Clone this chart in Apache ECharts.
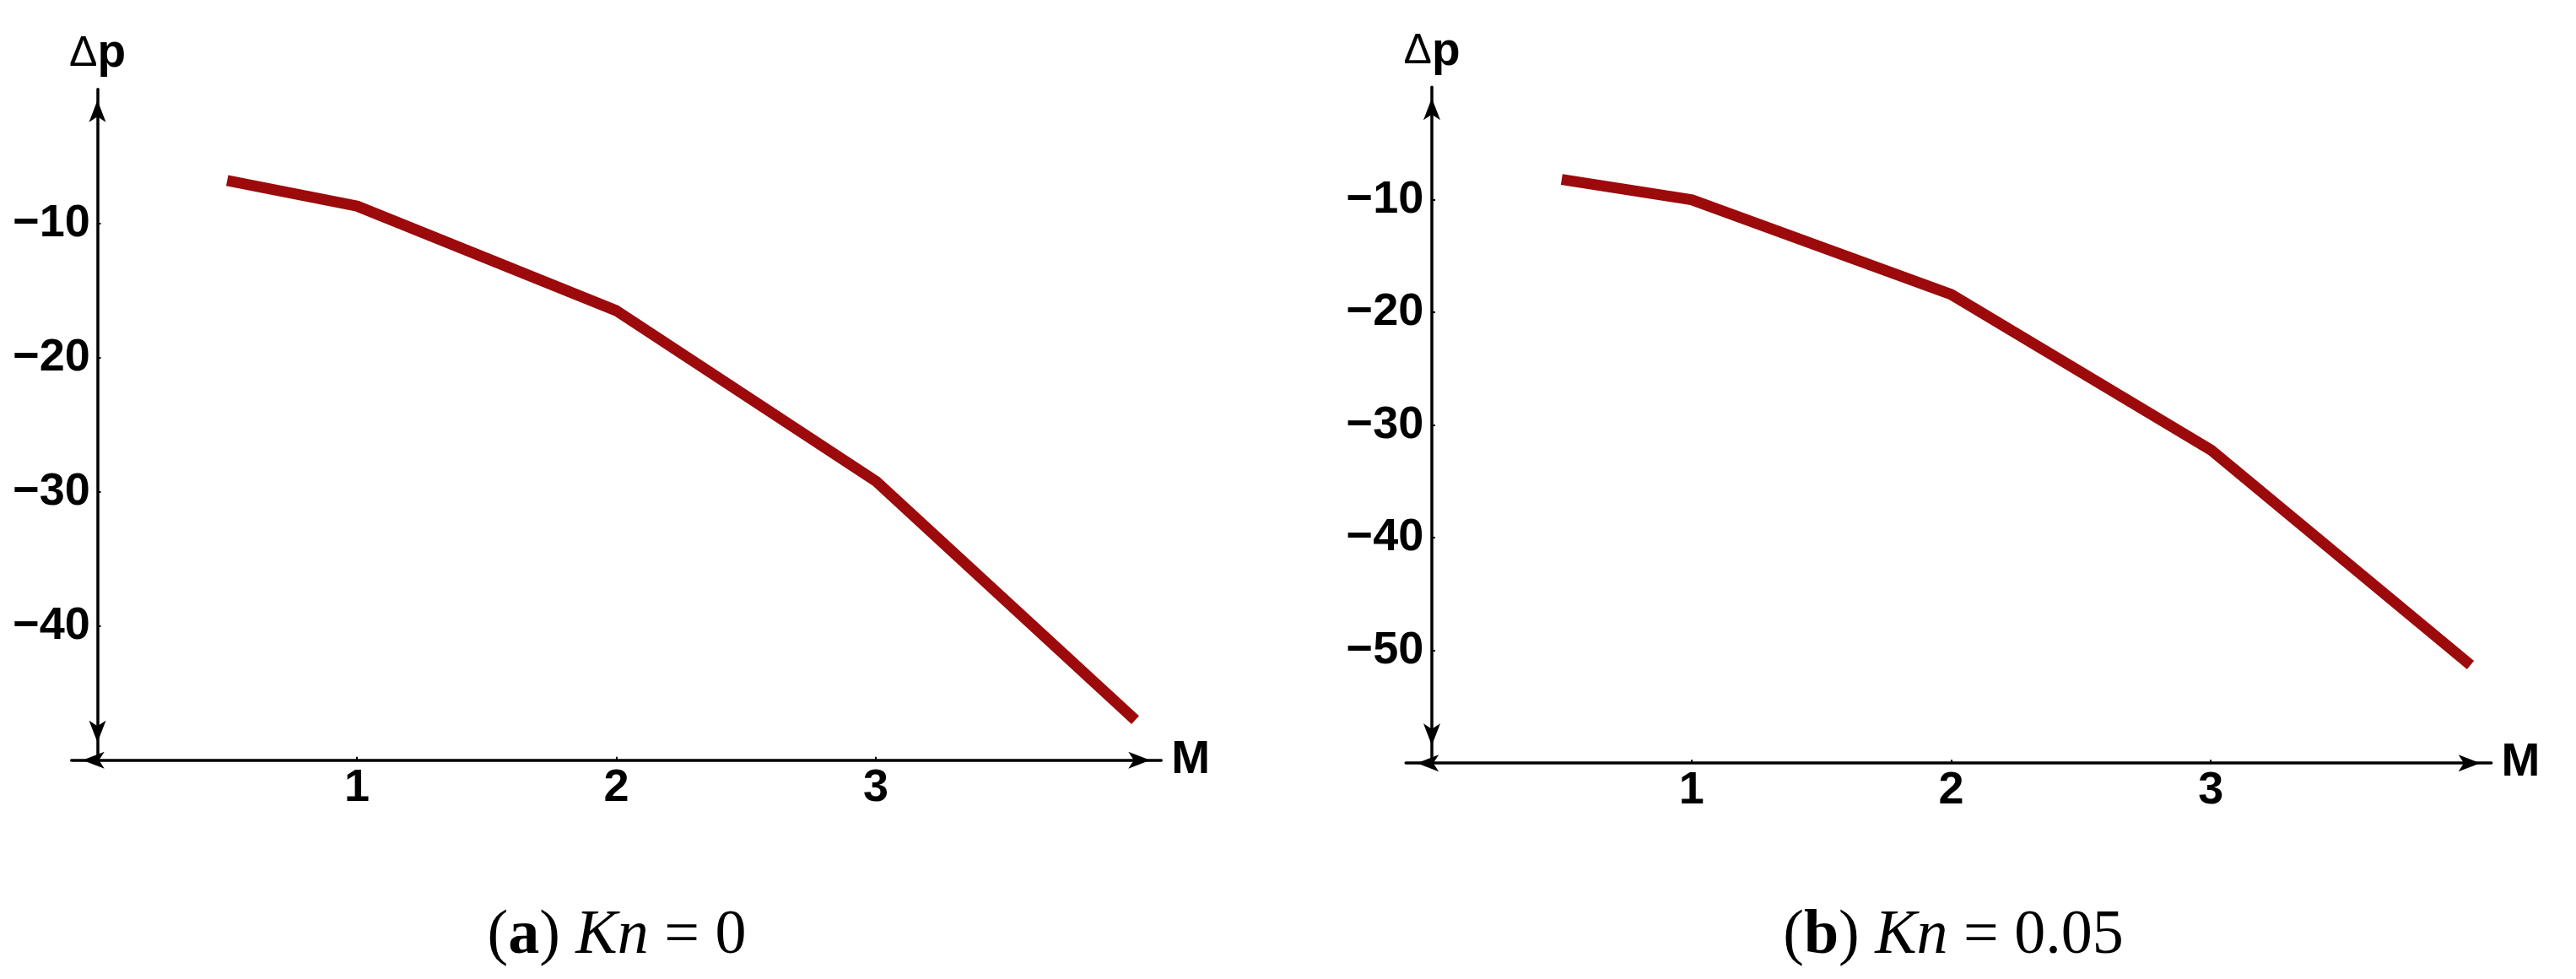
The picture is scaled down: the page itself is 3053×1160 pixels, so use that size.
<!DOCTYPE html>
<html><head><meta charset="utf-8">
<script src="https://cdn.jsdelivr.net/npm/echarts@6/dist/echarts.min.js"></script>
<style>html,body{margin:0;padding:0;background:#fff;} #c{width:3053px;height:1160px;}</style>
</head><body><div id="c"></div>
<script>
// ---- data ----
const machNumbers = [0.5, 1, 2, 3, 4];
const dpKn0 = [-6.8, -8.7, -16.5, -29.2, -47.0];
const dpKn005 = [-8.2, -10.0, -18.4, -32.2, -51.3];
const xTickValues = [1, 2, 3];
const yTickValuesA = [-10, -20, -30, -40];
const yTickValuesB = [-10, -20, -30, -40, -50];
const captionA = ['a', '0'];
const captionB = ['b', '0.05'];

const SANS = 'Liberation Sans';
const SERIF = 'Liberation Serif';
const LINE_COLOR = '#9c0a0c';

function xAxisCfg(gi, min, max) {
  return {
    type: 'value', gridIndex: gi, min: min, max: max, position: 'bottom',
    axisLine: { show: true, onZero: false, symbol: ['arrow', 'arrow'], symbolSize: [15, 26], symbolOffset: [13, -13],
      lineStyle: { color: '#000', width: 3.5 } },
    axisTick: { show: true, inside: true, length: 4, customValues: xTickValues, lineStyle: { color: '#000', width: 2 } },
    axisLabel: { customValues: xTickValues, margin: 6, fontSize: 54, fontWeight: 'bold', fontFamily: SANS, color: '#000' },
    splitLine: { show: false },
    name: 'M', nameLocation: 'end', nameGap: 12,
    nameTextStyle: { fontSize: 55, fontWeight: 'bold', fontFamily: SANS, color: '#000' }
  };
}
function yAxisCfg(gi, min, ticks, margin) {
  return {
    type: 'value', gridIndex: gi, min: min, max: 0,
    axisLine: { show: true, onZero: true, symbol: ['arrow', 'arrow'], symbolSize: [15, 26], symbolOffset: [21, -13],
      lineStyle: { color: '#000', width: 3.5 } },
    axisTick: { show: true, inside: true, length: 4, customValues: ticks, lineStyle: { color: '#000', width: 2 } },
    axisLabel: { customValues: ticks, margin: margin, fontSize: 54, fontWeight: 'bold', fontFamily: SANS, color: '#000',
      formatter: v => String(v).replace('-', '\u2212') },
    splitLine: { show: false },
    name: '{d|Δ}{p|p}', nameLocation: 'end', nameGap: 14,
    nameTextStyle: { rich: {
      d: { fontSize: 50, fontFamily: SANS, fontWeight: 'normal', color: '#000' },
      p: { fontSize: 55, fontWeight: 'bold', fontFamily: SANS, color: '#000' } } }
  };
}
function caption(c, cx) {
  return {
    text: '{n|(}{b|' + c[0] + '}{n|) }{i|Kn}{n| = ' + c[1] + '}',
    left: cx, top: 1068, textAlign: 'center',
    textStyle: { fontWeight: 'normal', fontFamily: SERIF, fontSize: 74, rich: {
      n: { fontSize: 74, fontFamily: SERIF, fontWeight: 'normal', color: '#000' },
      b: { fontSize: 74, fontFamily: SERIF, fontWeight: 'bold', color: '#000' },
      i: { fontSize: 74, fontFamily: SERIF, fontStyle: 'italic', fontWeight: 'normal', color: '#000' } } }
  };
}

const chart = echarts.init(document.getElementById('c'), null, { renderer: 'canvas' });
chart.setOption({
  backgroundColor: '#fff',
  animation: false,
  title: [caption(captionA, 726), caption(captionB, 2310)],
  grid: [
    { left: 84.75, top: 105.8, width: 1291.5, height: 795, outerBoundsMode: 'none' },
    { left: 1666.2, top: 103.2, width: 1286.4, height: 801, outerBoundsMode: 'none' }
  ],
  xAxis: [xAxisCfg(0, -0.1, 4.1), xAxisCfg(1, -0.1, 4.08)],
  yAxis: [yAxisCfg(0, -50, yTickValuesA, -22), yAxisCfg(1, -60, yTickValuesB, -21)],
  series: [
    { type: 'line', xAxisIndex: 0, yAxisIndex: 0, symbol: 'none', silent: true,
      data: machNumbers.map((m, i) => [m, dpKn0[i]]),
      lineStyle: { color: LINE_COLOR, width: 13, cap: 'butt', join: 'round' } },
    { type: 'line', xAxisIndex: 1, yAxisIndex: 1, symbol: 'none', silent: true,
      data: machNumbers.map((m, i) => [m, dpKn005[i]]),
      lineStyle: { color: LINE_COLOR, width: 13, cap: 'butt', join: 'round' } }
  ]
});
</script></body></html>
